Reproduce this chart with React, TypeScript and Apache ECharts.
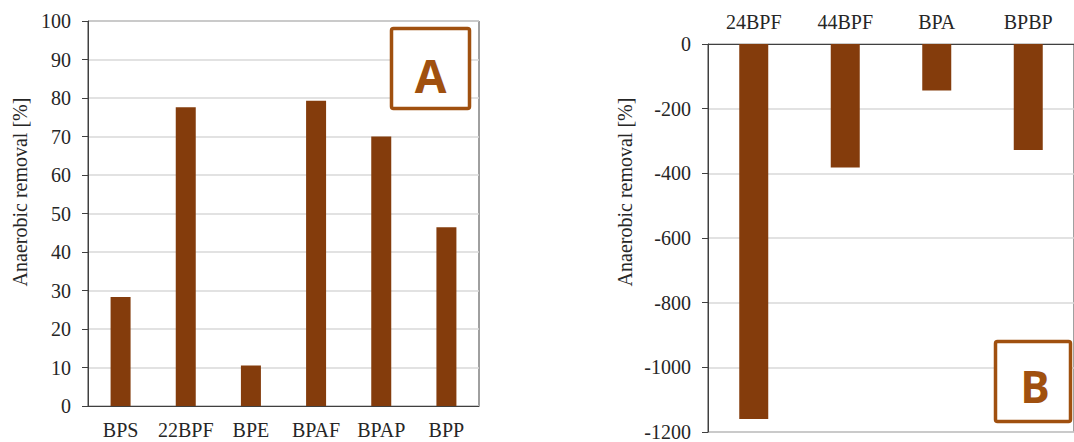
import React, { useEffect, useRef } from "react";
import * as echarts from "echarts";

const categoriesA = ["BPS", "22BPF", "BPE", "BPAF", "BPAP", "BPP"];
const valuesA = [28.3, 77.6, 10.5, 79.3, 70.0, 46.4];
const categoriesB = ["24BPF", "44BPF", "BPA", "BPBP"];
const valuesB = [-1160, -382, -144, -328];
const axisNameText = "Anaerobic removal [%]";

const FONT = "Liberation Serif, Times New Roman, serif";
const FS = 20;
const BAR = "#843C0C";
const BOX = "#A0500F";
const AXIS = "#404040";
const GRIDC = "#d9d9d9";
const TEXT = "#262626";

export default function App() {
  const ref = useRef<HTMLDivElement>(null);
  useEffect(() => {
    if (!ref.current) return;
    const chart = echarts.init(ref.current, undefined, { renderer: "svg" });
    const yAxisCommon = (min: number, max: number, interval: number) => ({
      type: "value",
      min,
      max,
      interval,
      axisLine: { show: true, lineStyle: { color: AXIS, width: 1 } },
      axisTick: { show: true, length: 6, lineStyle: { color: AXIS } },
      axisLabel: {
        fontFamily: FONT,
        fontSize: FS,
        color: TEXT,
        margin: 17,
        formatter: (v: number) => String(v),
      },
      splitLine: { show: true, lineStyle: { color: GRIDC, width: 1.5 } },
    });
    chart.setOption({
      animation: false,
      backgroundColor: "#ffffff",
      grid: [
        { left: 88, top: 21, width: 391, height: 385, show: true, borderColor: AXIS, borderWidth: 1, backgroundColor: "transparent" },
        { left: 708, top: 44, width: 376, height: 390, show: true, borderColor: AXIS, borderWidth: 1, backgroundColor: "transparent" },
      ],
      xAxis: [
        {
          type: "category",
          gridIndex: 0,
          data: categoriesA,
          axisLine: { show: true, lineStyle: { color: AXIS } },
          axisTick: { show: false },
          axisLabel: { fontFamily: FONT, fontSize: FS, color: TEXT, margin: 14, interval: 0 },
        },
        {
          type: "category",
          gridIndex: 1,
          position: "top",
          data: categoriesB,
          axisLine: { show: true, onZero: false, lineStyle: { color: AXIS } },
          axisTick: { show: false },
          axisLabel: { fontFamily: FONT, fontSize: FS, color: TEXT, margin: 12, interval: 0 },
        },
      ],
      yAxis: [
        { gridIndex: 0, ...yAxisCommon(0, 100, 10) },
        { gridIndex: 1, ...yAxisCommon(-1200, 0, 200) },
      ],
      series: [
        {
          type: "bar",
          xAxisIndex: 0,
          yAxisIndex: 0,
          data: valuesA,
          barWidth: 20,
          itemStyle: { color: BAR },
        },
        {
          type: "bar",
          xAxisIndex: 1,
          yAxisIndex: 1,
          data: valuesB,
          barWidth: 29,
          itemStyle: { color: BAR },
        },
      ],
      graphic: [
        {
          type: "text",
          x: 20,
          y: 192,
          rotation: Math.PI / 2,
          style: { text: axisNameText, fontFamily: FONT, fontSize: FS, fill: TEXT, align: "center", verticalAlign: "middle" },
        },
        {
          type: "text",
          x: 625,
          y: 192,
          rotation: Math.PI / 2,
          style: { text: axisNameText, fontFamily: FONT, fontSize: FS, fill: TEXT, align: "center", verticalAlign: "middle" },
        },
        {
          type: "rect",
          shape: { x: 391.5, y: 28.5, width: 78, height: 80, r: 2 },
          style: { fill: "#ffffff", stroke: BOX, lineWidth: 3.5 },
          z: 100,
        },
        {
          type: "text",
          x: 430.5,
          y: 75,
          style: { text: "A", fontFamily: "Open Sans, sans-serif", fontWeight: "bold", fontSize: 46, fill: BOX, align: "center", verticalAlign: "middle" },
          z: 101,
        },
        {
          type: "rect",
          shape: { x: 995.5, y: 341.5, width: 75, height: 80, r: 2 },
          style: { fill: "#ffffff", stroke: BOX, lineWidth: 3.5 },
          z: 100,
        },
        {
          type: "text",
          x: 1035,
          y: 386,
          style: { text: "B", fontFamily: "Open Sans, sans-serif", fontWeight: "bold", fontSize: 44, fill: BOX, align: "center", verticalAlign: "middle" },
          z: 101,
        },
      ],
    });
    return () => chart.dispose();
  }, []);
  return (
    <div
      ref={ref}
      style={{ position: "fixed", left: 0, top: 0, width: 1074, height: 442, background: "#fff" }}
    />
  );
}
